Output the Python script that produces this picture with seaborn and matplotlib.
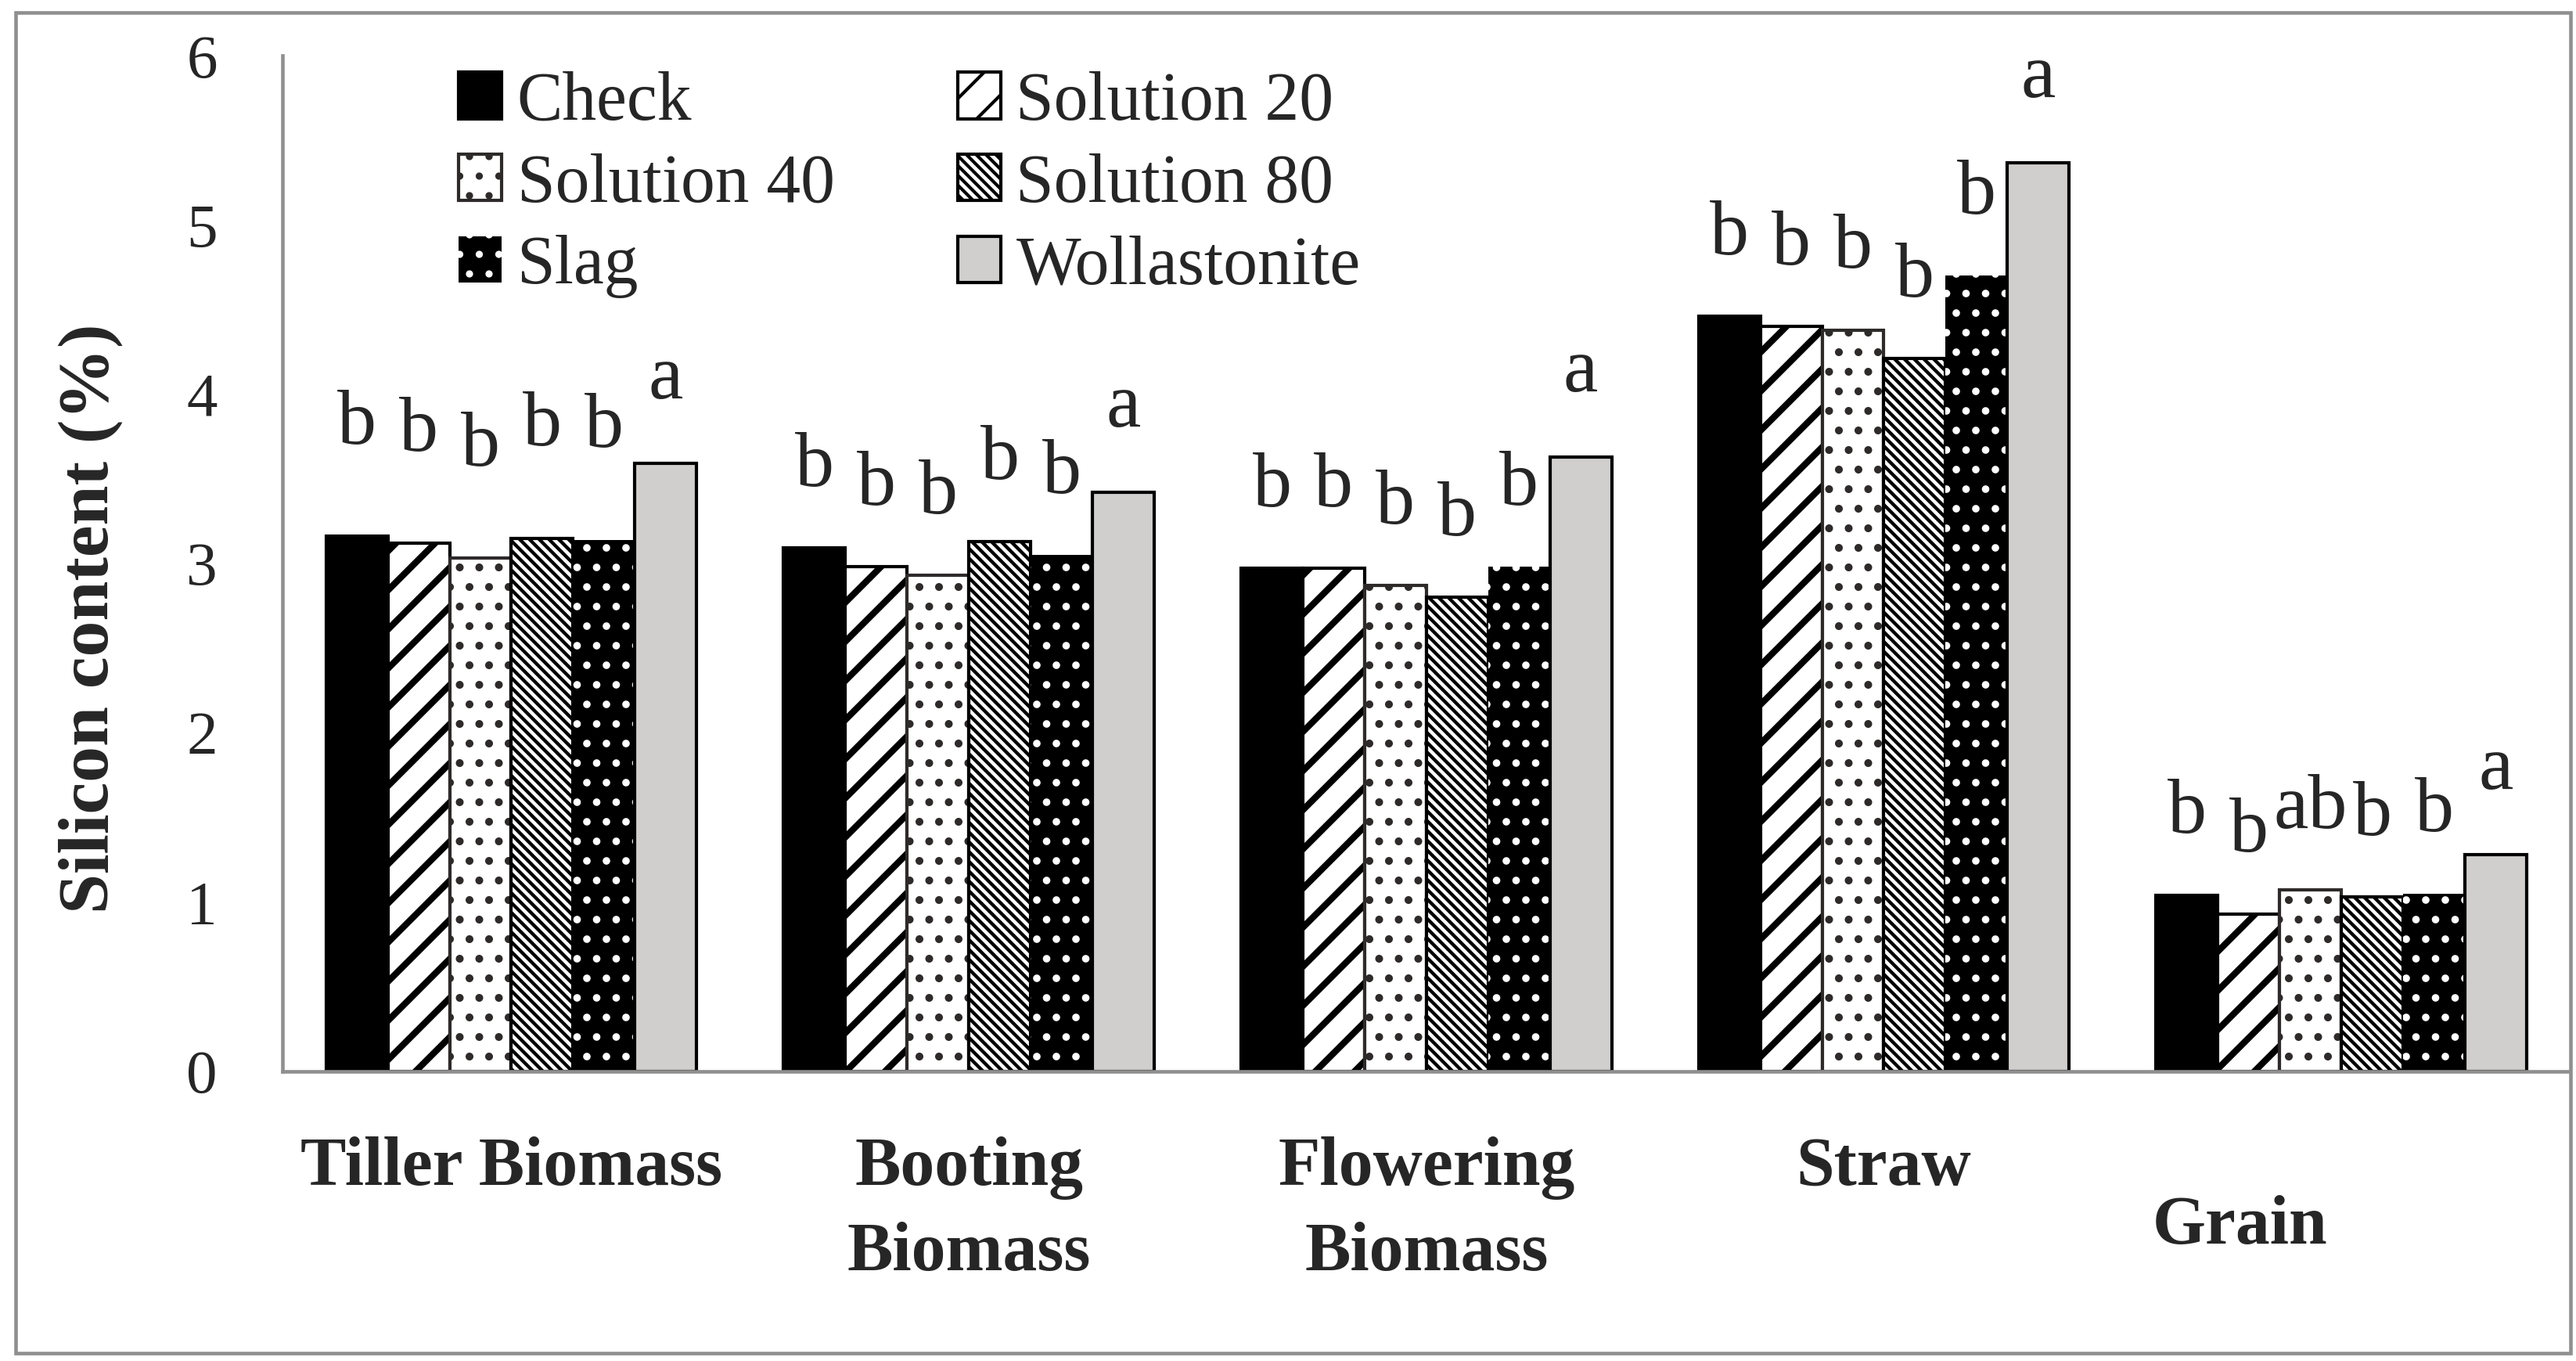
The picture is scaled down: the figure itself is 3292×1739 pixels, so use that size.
import numpy as np
import pandas as pd
import matplotlib
matplotlib.use("Agg")
import matplotlib.pyplot as plt
from matplotlib.patches import Rectangle
from matplotlib.transforms import ScaledTranslation
import seaborn as sns

# Data
stages = ['Tiller Biomass', 'Booting\nBiomass', 'Flowering\nBiomass', 'Straw', 'Grain']
treatments = ['Check', 'Solution 20', 'Solution 40', 'Solution 80', 'Slag', 'Wollastonite']
check = [3.16, 3.09, 2.97, 4.46, 1.04]
sol20 = [3.12, 2.98, 2.97, 4.40, 0.93]
sol40 = [3.03, 2.93, 2.87, 4.38, 1.07]
sol80 = [3.15, 3.13, 2.80, 4.21, 1.03]
slag = [3.14, 3.05, 2.98, 4.70, 1.05]
wollastonite = [3.59, 3.42, 3.63, 5.37, 1.28]
letters_check = ['b', 'b', 'b', 'b', 'b']
letters_sol20 = ['b', 'b', 'b', 'b', 'b']
letters_sol40 = ['b', 'b', 'b', 'b', 'ab']
letters_sol80 = ['b', 'b', 'b', 'b', 'b']
letters_slag = ['b', 'b', 'b', 'b', 'b']
letters_woll = ['a', 'a', 'a', 'a', 'a']
yticks = [0, 1, 2, 3, 4, 5, 6]

series = [check, sol20, sol40, sol80, slag, wollastonite]
letters = [letters_check, letters_sol20, letters_sol40, letters_sol80, letters_slag, letters_woll]
df = pd.DataFrame({
    'stage': stages * len(treatments),
    'treatment': np.repeat(treatments, len(stages)),
    'value': np.concatenate(series),
})

# gap between bar top and its letter (the tiller letters sit higher in the original)
label_gap = [0.45, 0.27, 0.27, 0.27, 0.27]

sns.set_style('white')
plt.rcParams['font.family'] = ['Liberation Serif', 'DejaVu Serif']

fig = plt.figure(figsize=(3292 / 300, 1739 / 300), dpi=300)
ax = fig.add_axes([0.1097, 0.213, 0.888, 0.746])

sns.barplot(data=df, x='stage', y='value', hue='treatment', order=stages,
            hue_order=treatments, width=0.81, gap=0, dodge=True,
            palette=['white'] * 6, edgecolor='black', linewidth=1.0,
            legend=False, ax=ax)

# fill / hatch style for each treatment
styles = [
    dict(facecolor='black', edgecolor='black', hatch=None, lw=1.0, hlw=1.0),
    dict(facecolor='white', edgecolor='black', hatch='//', lw=1.0, hlw=2.0),
    dict(facecolor='white', edgecolor='#2e2a2a', hatch='..', lw=1.0, hlw=1.2),
    dict(facecolor='white', edgecolor='black', hatch='\\' * 8, lw=1.0, hlw=1.05),
    dict(facecolor='black', edgecolor='white', hatch='..', lw=0.0, hlw=1.1),
    dict(facecolor='#d0cfcd', edgecolor='black', hatch=None, lw=1.0, hlw=1.0),
]


def apply_style(p, st):
    p.set_facecolor(st['facecolor'])
    p.set_edgecolor(st['edgecolor'])
    p.set_linewidth(st['lw'])
    p.set_hatch(st['hatch'])
    if hasattr(p, 'set_hatch_linewidth'):
        p.set_hatch_linewidth(st['hlw'])


for cont, st in zip(ax.containers, styles):
    for p in cont.patches:
        apply_style(p, st)

# significance letters
for cont, labs in zip(ax.containers, letters):
    for j, (p, lab) in enumerate(zip(cont.patches, labs)):
        gap = 0.29 if lab == 'a' else label_gap[j]
        ax.text(p.get_x() + p.get_width() / 2, p.get_height() + gap, lab,
                ha='center', va='bottom', fontsize=24)

ax.set_ylim(0, 6)
ax.set_xlim(-0.5, 4.5)
ax.set_yticks(yticks)
ax.set_yticklabels([str(t) for t in yticks], fontsize=19)
ax.tick_params(axis='y', length=0, pad=20)
ax.tick_params(axis='x', length=0, pad=20)
ax.set_xticks(range(len(stages)))
ax.set_xticklabels(stages, fontsize=21, fontweight='bold', linespacing=1.45)
for lbl in ax.get_xticklabels():
    if lbl.get_text() == 'Grain':
        # the Grain label sits lower and to the left in the original
        lbl.set_transform(lbl.get_transform()
                          + ScaledTranslation(-31 / 72, -18 / 72, fig.dpi_scale_trans))

ax.set_xlabel('')
ax.set_ylabel('Silicon content (%)', fontsize=22, fontweight='bold')
ax.yaxis.set_label_coords(-0.070, 0.446)

for s in ['top', 'right']:
    ax.spines[s].set_visible(False)
for s in ['left', 'bottom']:
    ax.spines[s].set_color('#8f8f8f')
    ax.spines[s].set_linewidth(1.1)

# legend (column-wise order to match the two-column layout)
handles = []
for st in styles:
    r = Rectangle((0, 0), 1, 1)
    apply_style(r, st)
    handles.append(r)
order = [0, 2, 4, 1, 3, 5]
ax.legend([handles[i] for i in order], [treatments[i] for i in order],
          ncol=2, loc='upper left', bbox_to_anchor=(0.077, 0.985), frameon=False,
          fontsize=21, handlelength=0.63, handleheight=0.67, handletextpad=0.22,
          columnspacing=1.8, labelspacing=0.27, borderpad=0, borderaxespad=0)

# outer border of the chart area
fig.patches.append(Rectangle((0.006, 0.006), 0.992, 0.985, transform=fig.transFigure,
                             fill=False, edgecolor='#8f8f8f', linewidth=1.1))

fig.savefig('out.png', dpi=300, facecolor='white')
